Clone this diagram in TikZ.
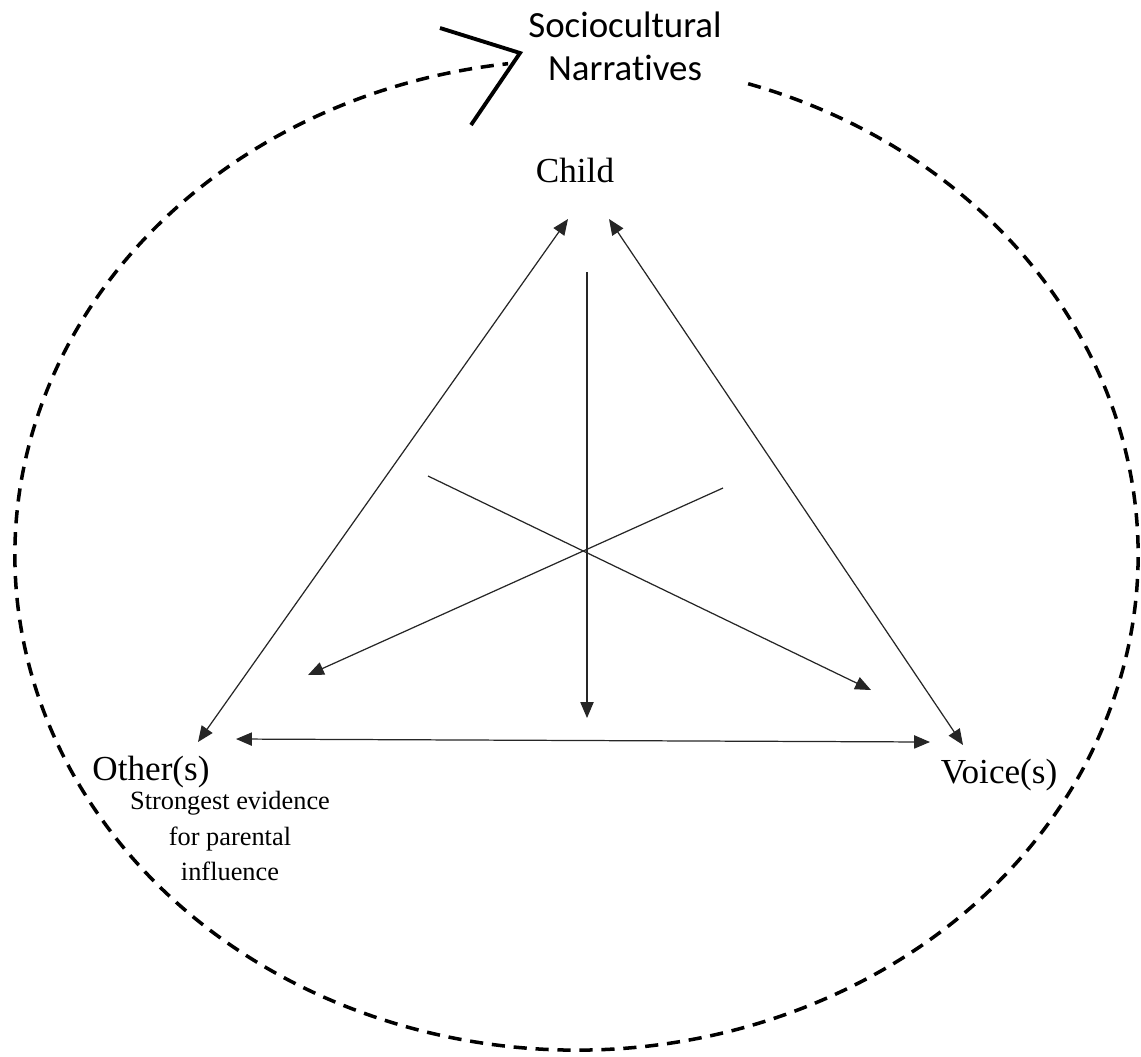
\documentclass[tikz,border=0pt]{standalone}
\usepackage{fontspec}
\setmainfont{Liberation Serif}
\newfontfamily\calibrifont[Ligatures=NoCommon]{Carlito}
\usetikzlibrary{arrows.meta}

\tikzset{
  link/.style={{Triangle[length=9pt,width=7.5pt]}-{Triangle[length=9pt,width=7.5pt]}, line width=0.7pt, black!85},
  ray/.style={-{Triangle[length=9pt,width=7.5pt]}, line width=0.7pt, black!85},
  corner/.style={inner sep=0pt, anchor=base, font=\fontsize{20}{24}\selectfont},
  ring/.style={line width=2pt, dash pattern=on 7.5pt off 5pt},
}

\begin{document}
\begin{tikzpicture}[x=0.02cm,y=-0.02cm]
\useasboundingbox (0,0) rectangle (1141,1056);

\node [inner sep=0pt, align=center, font=\calibrifont\fontsize{21}{24.5}\selectfont] (socio) at (625,46) {Sociocultural\\Narratives};

\node [corner] (child) at (575,182) {Child};
\node [corner] (other) at (151,780) {Other(s)};
\node [corner] (voice) at (999,783) {Voice(s)};
\node [inner sep=0pt, align=center, font=\fontsize{15}{20}\selectfont] (evid) at (230,836) {Strongest evidence\\for parental\\influence};

\coordinate (mid) at (576.5,555);
\draw [ring] (mid) ++(-72.2:561.5 and 495) arc [start angle=-72.2, end angle=263, x radius=561.5, y radius=495];

\coordinate (vtip) at (520,53);
\coordinate (vtop) at (440,28);
\coordinate (vbot) at (471,125);
\draw [line width=2.2pt] (vtop) -- (vtip) -- (vbot);

\coordinate (c1) at (568,219);
\coordinate (c2) at (609,219);
\coordinate (o1) at (198,742);
\coordinate (o2) at (236,739);
\coordinate (v1) at (963,745);
\coordinate (v2) at (930,742);

\draw [link] (c1) -- (o1);
\draw [link] (c2) -- (v1);
\draw [link] (o2) -- (v2);

\coordinate (top) at (587,272);
\coordinate (base) at (587,718);
\coordinate (xl) at (428,476);
\coordinate (xr) at (723,488);
\coordinate (tl) at (308,675);
\coordinate (tr) at (871,690);

\draw [ray] (top) -- (base);
\draw [ray] (xl) -- (tr);
\draw [ray] (xr) -- (tl);

\end{tikzpicture}
\end{document}
